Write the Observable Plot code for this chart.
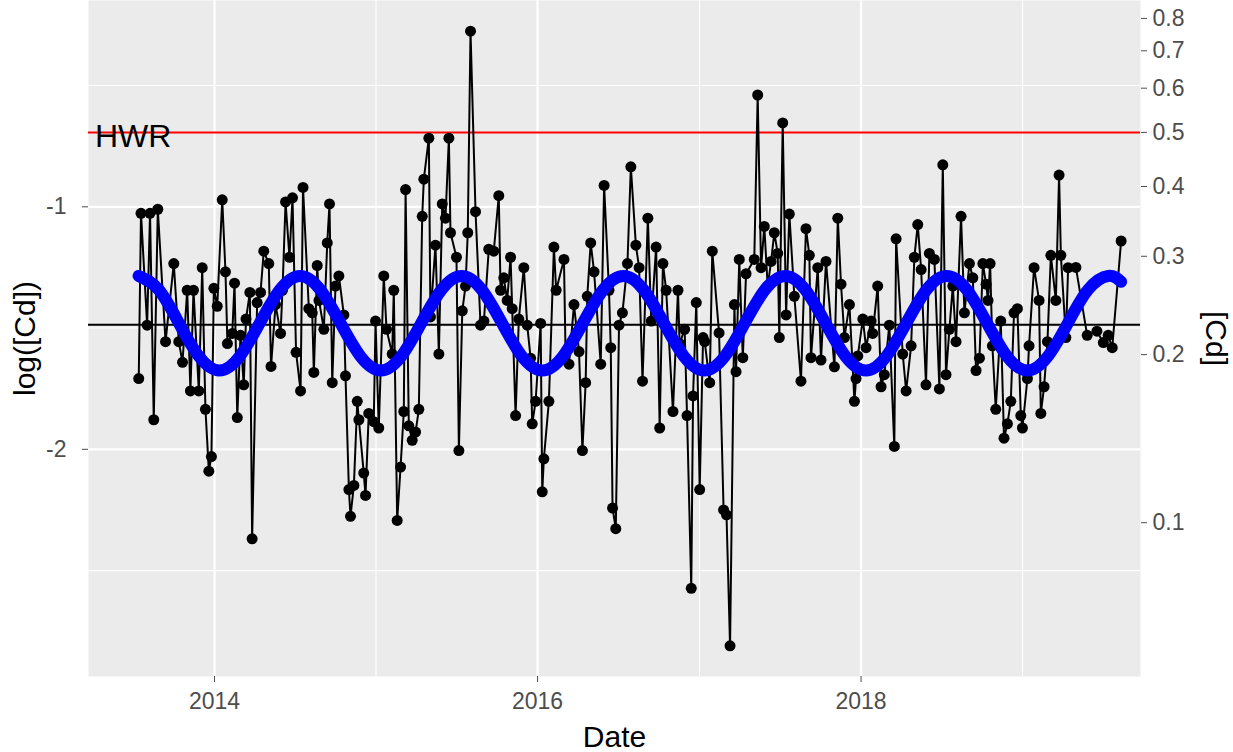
<!DOCTYPE html>
<html>
<head>
<meta charset="utf-8">
<script src="https://cdn.jsdelivr.net/npm/d3@7"></script>
<script src="https://cdn.jsdelivr.net/npm/@observablehq/plot@0.6"></script>
<style>
  html, body { margin: 0; padding: 0; background: #ffffff; }
  #chart svg { display: block; }
</style>
</head>
<body>
<div id="chart"></div>
<script>
// ---- Data ----
// sampling dates as decimal years
const dateYears = [
  2013.531, 2013.545, 2013.583, 2013.601, 2013.624, 2013.649, 2013.697, 2013.748, 2013.779, 2013.802,
  2013.831, 2013.851, 2013.870, 2013.903, 2013.924, 2013.944, 2013.965, 2013.981, 2013.996, 2014.017,
  2014.048, 2014.068, 2014.080, 2014.110, 2014.124, 2014.141, 2014.161, 2014.181, 2014.195, 2014.219,
  2014.233, 2014.264, 2014.285, 2014.305, 2014.336, 2014.350, 2014.378, 2014.409, 2014.421, 2014.440,
  2014.464, 2014.483, 2014.505, 2014.533, 2014.548, 2014.584, 2014.605, 2014.615, 2014.636, 2014.647,
  2014.677, 2014.698, 2014.712, 2014.729, 2014.749, 2014.770, 2014.801, 2014.811, 2014.832, 2014.842,
  2014.863, 2014.884, 2014.894, 2014.924, 2014.935, 2014.955, 2014.986, 2014.997, 2015.017, 2015.048,
  2015.065, 2015.100, 2015.110, 2015.131, 2015.152, 2015.172, 2015.183, 2015.203, 2015.224, 2015.245,
  2015.265, 2015.286, 2015.296, 2015.327, 2015.337, 2015.368, 2015.389, 2015.410, 2015.430, 2015.451,
  2015.461, 2015.498, 2015.513, 2015.534, 2015.554, 2015.568, 2015.585, 2015.616, 2015.647, 2015.668,
  2015.698, 2015.729, 2015.760, 2015.771, 2015.791, 2015.812, 2015.833, 2015.843, 2015.864, 2015.884,
  2015.915, 2015.936, 2015.957, 2015.967, 2015.988, 2016.019, 2016.029, 2016.039, 2016.070, 2016.101,
  2016.115, 2016.163, 2016.173, 2016.194, 2016.225, 2016.256, 2016.277, 2016.297, 2016.307, 2016.328,
  2016.349, 2016.390, 2016.411, 2016.441, 2016.452, 2016.463, 2016.483, 2016.503, 2016.524, 2016.555,
  2016.576, 2016.607, 2016.627, 2016.648, 2016.681, 2016.702, 2016.732, 2016.754, 2016.774, 2016.794,
  2016.836, 2016.867, 2016.877, 2016.908, 2016.923, 2016.949, 2016.960, 2016.980, 2017.001, 2017.022,
  2017.032, 2017.063, 2017.079, 2017.121, 2017.149, 2017.167, 2017.189, 2017.216, 2017.226, 2017.246,
  2017.268, 2017.288, 2017.339, 2017.360, 2017.381, 2017.401, 2017.422, 2017.443, 2017.463, 2017.484,
  2017.494, 2017.515, 2017.536, 2017.556, 2017.587, 2017.628, 2017.659, 2017.680, 2017.690, 2017.732,
  2017.752, 2017.783, 2017.835, 2017.856, 2017.876, 2017.897, 2017.928, 2017.959, 2017.969, 2017.980,
  2018.011, 2018.031, 2018.062, 2018.072, 2018.103, 2018.124, 2018.144, 2018.175, 2018.206, 2018.217,
  2018.258, 2018.279, 2018.310, 2018.330, 2018.351, 2018.372, 2018.402, 2018.423, 2018.454, 2018.485,
  2018.506, 2018.526, 2018.547, 2018.568, 2018.588, 2018.619, 2018.640, 2018.671, 2018.692, 2018.712,
  2018.733, 2018.754, 2018.774, 2018.786, 2018.799, 2018.813, 2018.834, 2018.865, 2018.885, 2018.906,
  2018.927, 2018.947, 2018.968, 2018.989, 2018.999, 2019.030, 2019.040, 2019.071, 2019.102, 2019.113,
  2019.133, 2019.154, 2019.175, 2019.206, 2019.226, 2019.237, 2019.268, 2019.282, 2019.330, 2019.400,
  2019.460, 2019.500, 2019.530, 2019.555, 2019.610
];
// log([Cd]) values
const logCd = [
  -1.708, -1.027, -1.488, -1.027, -1.878, -1.010, -1.556, -1.234, -1.556, -1.641,
  -1.344, -1.759, -1.344, -1.759, -1.251, -1.835, -2.090, -2.030, -1.336, -1.410,
  -0.971, -1.268, -1.564, -1.522, -1.315, -1.869, -1.530, -1.734, -1.463, -1.353,
  -2.369, -1.395, -1.353, -1.183, -1.234, -1.658, -1.403, -1.522, -1.344, -0.980,
  -1.208, -0.963, -1.600, -1.759, -0.920, -1.420, -1.437, -1.683, -1.242, -1.386,
  -1.505, -1.149, -0.988, -1.725, -1.327, -1.285, -1.446, -1.697, -2.166, -2.276,
  -2.149, -1.802, -1.878, -2.098, -2.190, -1.852, -1.886, -1.471, -1.912, -1.285,
  -1.505, -1.607, -1.344, -2.293, -2.073, -1.844, -0.929, -1.903, -1.963, -1.929,
  -1.835, -1.039, -0.886, -0.717, -1.454, -1.158, -1.607, -0.988, -1.047, -0.717,
  -1.107, -1.208, -2.005, -1.429, -1.327, -1.107, -0.276, -1.020, -1.488, -1.471,
  -1.175, -1.183, -0.954, -1.344, -1.293, -1.386, -1.208, -1.420, -1.861, -1.463,
  -1.251, -1.488, -1.624, -1.895, -1.802, -1.481, -2.175, -2.039, -1.802, -1.166,
  -1.344, -1.217, -1.607, -1.649, -1.403, -1.597, -2.005, -1.725, -1.369, -1.149,
  -1.268, -1.649, -0.912, -1.344, -1.581, -2.242, -2.327, -1.488, -1.437, -1.234,
  -0.835, -1.158, -1.251, -1.719, -1.047, -1.471, -1.166, -1.912, -1.234, -1.344,
  -1.844, -1.344, -1.564, -1.505, -1.861, -2.573, -1.780, -1.395, -2.166, -1.539,
  -1.556, -1.725, -1.183, -1.520, -2.250, -2.270, -2.810, -1.403, -1.680, -1.217,
  -1.622, -1.276, -1.217, -0.539, -1.251, -1.081, -1.327, -1.225, -1.107, -1.192,
  -1.539, -0.654, -1.446, -1.030, -1.369, -1.719, -1.090, -1.200, -1.622, -1.251,
  -1.632, -1.225, -1.660, -1.047, -1.319, -1.539, -1.403, -1.802, -1.708, -1.615,
  -1.463, -1.581, -1.471, -1.522, -1.327, -1.742, -1.692, -1.488, -1.988, -1.132,
  -1.607, -1.759, -1.573, -1.208, -1.073, -1.259, -1.734, -1.192, -1.217, -1.751,
  -0.827, -1.692, -1.505, -1.327, -1.556, -1.039, -1.437, -1.234, -1.293, -1.675,
  -1.624, -1.234, -1.319, -1.386, -1.234, -1.573, -1.835, -1.471, -1.954, -1.895,
  -1.802, -1.437, -1.420, -1.861, -1.912, -1.708, -1.573, -1.251, -1.386, -1.852,
  -1.742, -1.556, -1.200, -1.386, -0.869, -1.200, -1.539, -1.251, -1.250, -1.530,
  -1.513, -1.560, -1.530, -1.581, -1.141
];
// seasonal fit (blue curve)
const fitYears = [
  2013.530, 2013.655, 2013.780, 2013.905,
  2014.030, 2014.155, 2014.280, 2014.405, 2014.530, 2014.655, 2014.780, 2014.905,
  2015.030, 2015.155, 2015.280, 2015.405, 2015.530, 2015.655, 2015.780, 2015.905,
  2016.030, 2016.155, 2016.280, 2016.405, 2016.530, 2016.655, 2016.780, 2016.905,
  2017.030, 2017.155, 2017.280, 2017.405, 2017.530, 2017.655, 2017.780, 2017.905,
  2018.030, 2018.155, 2018.280, 2018.405, 2018.530, 2018.655, 2018.780, 2018.905,
  2019.030, 2019.155, 2019.280, 2019.405, 2019.530, 2019.610
];
const fitValues = [
  -1.285, -1.342, -1.480, -1.618,
  -1.675, -1.618, -1.480, -1.342, -1.285, -1.342, -1.480, -1.618,
  -1.675, -1.618, -1.480, -1.342, -1.285, -1.342, -1.480, -1.618,
  -1.675, -1.618, -1.480, -1.342, -1.285, -1.342, -1.480, -1.618,
  -1.675, -1.618, -1.480, -1.342, -1.285, -1.342, -1.480, -1.618,
  -1.675, -1.618, -1.480, -1.342, -1.285, -1.342, -1.480, -1.618,
  -1.675, -1.618, -1.480, -1.342, -1.285, -1.309
];
const meanLog = -1.486;          // black reference line
const hwr = 0.5;                 // HWR threshold in [Cd]
const hwrLabel = "HWR";
const hwrLabelYear = 2013.26;
const xLimits = [2013.22, 2019.73];   // panel range (decimal years)
const yBreaks = [-1, -2];
const yMinor = [-0.5, -1.5, -2.5];
const xBreaks = [2014, 2016, 2018];
const xMinor = [2015, 2017, 2019];
const cdBreaks = [0.1, 0.2, 0.3, 0.4, 0.5, 0.6, 0.7, 0.8];
const xTitle = "Date", yTitle = "log([Cd])", y2Title = "[Cd]";

// ---- helpers ----
function decYear(y) {
  const yr = Math.floor(y);
  const s = Date.UTC(yr, 0, 1), e = Date.UTC(yr + 1, 0, 1);
  return new Date(s + (y - yr) * (e - s));
}
const data = dateYears.map((t, i) => ({date: decYear(t), v: logCd[i]}));
const fit = fitYears.map((t, i) => ({date: decYear(t), v: fitValues[i]}));

// ggplot-like 5% expansion on y
const [y0, y1] = d3.extent(logCd);
const yPad = (y1 - y0) * 0.05;

const font = "'Liberation Sans', Arial, Helvetica, sans-serif";

const chart = Plot.plot({
  width: 1233,
  height: 752,
  marginLeft: 88,
  marginRight: 93,
  marginTop: 0,
  marginBottom: 76,
  style: {fontFamily: font, background: "#ffffff", overflow: "visible"},
  x: {type: "utc", domain: xLimits.map(decYear)},
  y: {domain: [y0 - yPad, y1 + yPad]},
  marks: [
    Plot.frame({fill: "#ebebeb", stroke: null}),
    Plot.gridY(yMinor, {stroke: "#ffffff", strokeOpacity: 1, strokeWidth: 1.1}),
    Plot.gridX(xMinor.map(decYear), {stroke: "#ffffff", strokeOpacity: 1, strokeWidth: 1.1}),
    Plot.gridY(yBreaks, {stroke: "#ffffff", strokeOpacity: 1, strokeWidth: 2.2}),
    Plot.gridX(xBreaks.map(decYear), {stroke: "#ffffff", strokeOpacity: 1, strokeWidth: 2.2}),
    Plot.ruleY([meanLog], {stroke: "#000000", strokeWidth: 2}),
    Plot.ruleY([Math.log(hwr)], {stroke: "#ff0000", strokeWidth: 2}),
    Plot.line(data, {x: "date", y: "v", stroke: "#000000", strokeWidth: 2}),
    Plot.dot(data, {x: "date", y: "v", r: 5.5, fill: "#000000", stroke: null}),
    Plot.line(fit, {x: "date", y: "v", stroke: "#0000ff", strokeWidth: 12, curve: "natural"}),
    Plot.text([{x: decYear(hwrLabelYear), y: Math.log(hwr), t: hwrLabel}],
      {x: "x", y: "y", text: "t", textAnchor: "start", fontSize: 32, fill: "#000000", dy: 4}),
    Plot.axisY(yBreaks, {anchor: "left", tickFormat: d => String(d), fontSize: 23,
      tickSize: 6, tickPadding: 16, color: "#4d4d4d", label: null}),
    Plot.axisY(cdBreaks.map(Math.log), {anchor: "right", tickFormat: d => String(+Math.exp(d).toFixed(1)),
      fontSize: 23, tickSize: 6, tickPadding: 6, color: "#4d4d4d", label: null}),
    Plot.axisX(xBreaks.map(decYear), {anchor: "bottom", tickFormat: d => String(d.getUTCFullYear()),
      fontSize: 23, tickSize: 6, tickPadding: 10, color: "#4d4d4d", label: null}),
    Plot.text([yTitle], {text: d => d, frameAnchor: "left", textAnchor: "middle", lineAnchor: "middle",
      rotate: -90, dx: -63, fontSize: 30, fill: "#000000"}),
    Plot.text([y2Title], {text: d => d, frameAnchor: "right", textAnchor: "middle", lineAnchor: "middle",
      rotate: 90, dx: 75, fontSize: 30, fill: "#000000"}),
    Plot.text([xTitle], {text: d => d, frameAnchor: "bottom", textAnchor: "middle", lineAnchor: "middle",
      dy: 61, fontSize: 30, fill: "#000000"})
  ]
});
document.getElementById("chart").appendChild(chart);
</script>
</body>
</html>
